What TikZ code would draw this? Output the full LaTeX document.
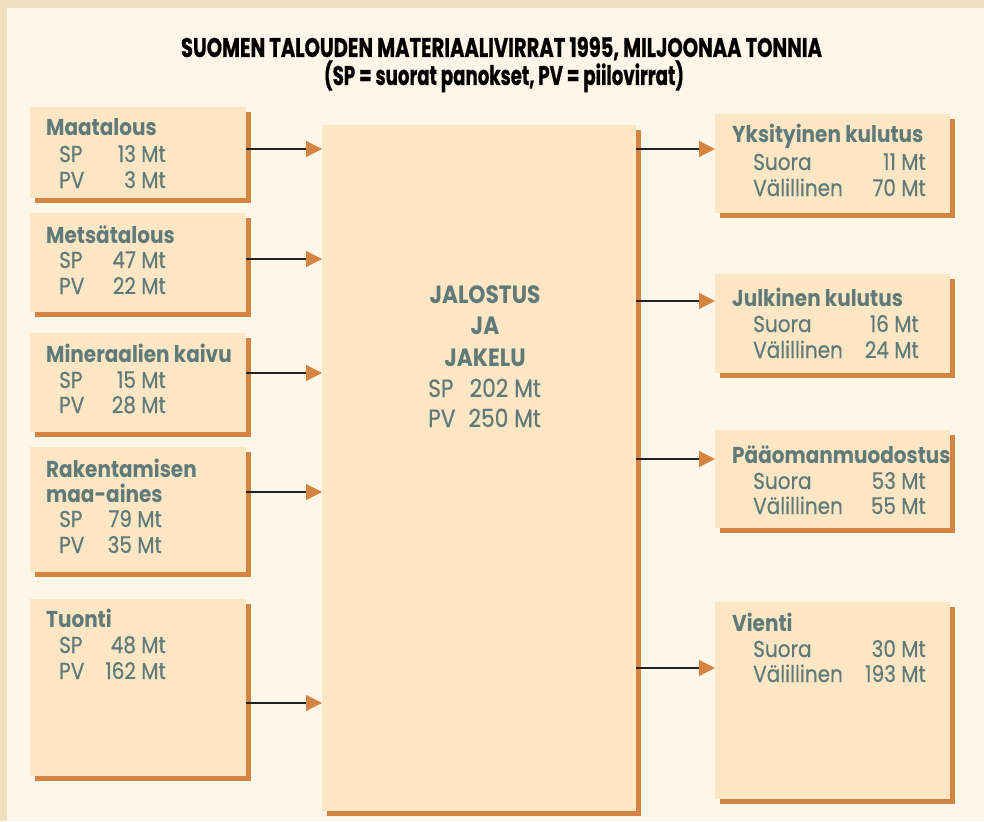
\documentclass[tikz,border=0pt]{standalone}
\usepackage{fontspec}
\usepackage{graphicx}
\setmainfont{Poppins}[FakeStretch=0.87]
\usetikzlibrary{arrows.meta,shadows}
\definecolor{frameC}{HTML}{EEDFBD}
\definecolor{bgC}{HTML}{FFF6EA}
\definecolor{faceC}{HTML}{FDE6C4}
\definecolor{shadowC}{HTML}{D48442}
\definecolor{textC}{HTML}{5F7A78}
\definecolor{lineC}{HTML}{222222}
\newcommand\regtxt[1]{\fontsize{#1}{#1}\selectfont\addfontfeatures{FakeBold=0.4}}
\newcommand\boldtxt[1]{\bfseries\fontsize{#1}{#1}\selectfont}
\begin{document}
\begin{tikzpicture}[x=1pt,y=-1pt,
  face/.style={fill=faceC, draw=none, anchor=north west, inner sep=0pt,
    copy shadow={shadow xshift=4.5pt, shadow yshift=-4.5pt, fill=shadowC, draw=none}},
  hd/.style={anchor=base west, inner sep=0pt, text=textC, font=\boldtxt{23}},
  lb/.style={anchor=base west, inner sep=0pt, text=textC, font=\regtxt{23}},
  vl/.style={anchor=base east, inner sep=0pt, text=textC, font=\regtxt{23}},
  chd/.style={anchor=base, inner sep=0pt, text=textC, font=\boldtxt{25}},
  clb/.style={anchor=base west, inner sep=0pt, text=textC, font=\regtxt{25}},
  cvl/.style={anchor=base east, inner sep=0pt, text=textC, font=\regtxt{25}},
  ttl/.style={anchor=base, inner sep=0pt, text=black, font=\boldtxt{27}\addfontfeatures{FakeBold=0.8}},
  arr/.style={draw=lineC, line width=1.2pt, -{Triangle[length=16pt,width=16pt,color=shadowC]}}
]
\useasboundingbox (0,0) rectangle (984,821);
\fill[frameC] (0,0) rectangle (984,821);
\fill[bgC] (7,8) rectangle (984,821);

% title
\node[ttl] (t1) at (501.5,57)
  {\resizebox{641pt}{\height}{SUOMEN TALOUDEN MATERIAALIVIRRAT 1995, MILJOONAA TONNIA}};
\node[ttl] (t2) at (504,85)
  {\resizebox{360pt}{\height}{(SP = suorat panokset, PV = piilovirrat)}};

% left boxes
\node[face, minimum width=216pt, minimum height=91pt] (maa) at (30,107) {};
\node[face, minimum width=216pt, minimum height=99pt] (met) at (30,213) {};
\node[face, minimum width=216pt, minimum height=99pt] (min) at (30,333) {};
\node[face, minimum width=216pt, minimum height=125pt] (rak) at (30,447) {};
\node[face, minimum width=216pt, minimum height=177pt] (tuo) at (30,599) {};
% centre box
\node[face, minimum width=314pt, minimum height=686pt] (jal) at (322,125) {};
% right boxes
\node[face, minimum width=235pt, minimum height=99pt] (yks) at (715,114) {};
\node[face, minimum width=235pt, minimum height=99pt] (jul) at (715,274) {};
\node[face, minimum width=235pt, minimum height=98pt] (paa) at (715,430) {};
\node[face, minimum width=235pt, minimum height=197pt] (vie) at (715,602) {};

% left texts
\node[hd] (maaH) at (46,136) {Maatalous};
\node[lb] (maaS) at (59,162) {SP};
\node[vl] (maaSv) at (166,162) {13 Mt};
\node[lb] (maaP) at (59,188) {PV};
\node[vl] (maaPv) at (166,188) {3 Mt};

\node[hd] (metH) at (46,243) {Metsätalous};
\node[lb] (metS) at (59,268) {SP};
\node[vl] (metSv) at (166,268) {47 Mt};
\node[lb] (metP) at (59,294) {PV};
\node[vl] (metPv) at (166,294) {22 Mt};

\node[hd] (minH) at (46,362) {Mineraalien kaivu};
\node[lb] (minS) at (59,388) {SP};
\node[vl] (minSv) at (166,388) {15 Mt};
\node[lb] (minP) at (59,413) {PV};
\node[vl] (minPv) at (166,413) {28 Mt};

\node[hd] (rakH) at (46,477) {Rakentamisen};
\node[hd] (rakH2) at (46,502) {maa-aines};
\node[lb] (rakS) at (59,527) {SP};
\node[vl] (rakSv) at (162,527) {79 Mt};
\node[lb] (rakP) at (59,553) {PV};
\node[vl] (rakPv) at (162,553) {35 Mt};

\node[hd] (tuoH) at (46,627) {Tuonti};
\node[lb] (tuoS) at (59,653) {SP};
\node[vl] (tuoSv) at (166,653) {48 Mt};
\node[lb] (tuoP) at (59,679) {PV};
\node[vl] (tuoPv) at (166,679) {162 Mt};

% centre texts
\node[chd] (jalA) at (485,303) {JALOSTUS};
\node[chd] (jalB) at (485,334) {JA};
\node[chd] (jalC) at (485,366) {JAKELU};
\node[clb] (jalS) at (428,397) {SP};
\node[cvl] (jalSv) at (541,397) {202 Mt};
\node[clb] (jalP) at (428,427) {PV};
\node[cvl] (jalPv) at (541,427) {250 Mt};

% right texts
\node[hd] (yksH) at (732,143) {Yksityinen kulutus};
\node[lb] (yksS) at (753,170) {Suora};
\node[vl] (yksSv) at (926,170) {11 Mt};
\node[lb] (yksV) at (753,196) {Välillinen};
\node[vl] (yksVv) at (926,196) {70 Mt};

\node[hd] (julH) at (732,306) {Julkinen kulutus};
\node[lb] (julS) at (753,332) {Suora};
\node[vl] (julSv) at (919,332) {16 Mt};
\node[lb] (julV) at (753,358) {Välillinen};
\node[vl] (julVv) at (919,358) {24 Mt};

\node[hd] (paaH) at (732,463) {Pääomanmuodostus};
\node[lb] (paaS) at (753,489) {Suora};
\node[vl] (paaSv) at (926,489) {53 Mt};
\node[lb] (paaV) at (753,514) {Välillinen};
\node[vl] (paaVv) at (926,514) {55 Mt};

\node[hd] (vieH) at (732,631) {Vienti};
\node[lb] (vieS) at (753,657) {Suora};
\node[vl] (vieSv) at (926,657) {30 Mt};
\node[lb] (vieV) at (753,682) {Välillinen};
\node[vl] (vieVv) at (926,682) {193 Mt};

% arrow levels
\coordinate (y1) at (0,149);
\coordinate (y2) at (0,259);
\coordinate (y3) at (0,373);
\coordinate (y4) at (0,492);
\coordinate (y5) at (0,703);
\coordinate (r1) at (0,149);
\coordinate (r2) at (0,301);
\coordinate (r3) at (0,459);
\coordinate (r4) at (0,668);

\draw[arr] (maa.east |- y1) -- (jal.west |- y1);
\draw[arr] (met.east |- y2) -- (jal.west |- y2);
\draw[arr] (min.east |- y3) -- (jal.west |- y3);
\draw[arr] (rak.east |- y4) -- (jal.west |- y4);
\draw[arr] (tuo.east |- y5) -- (jal.west |- y5);
\draw[arr] (jal.east |- r1) -- (yks.west |- r1);
\draw[arr] (jal.east |- r2) -- (jul.west |- r2);
\draw[arr] (jal.east |- r3) -- (paa.west |- r3);
\draw[arr] (jal.east |- r4) -- (vie.west |- r4);
\end{tikzpicture}
\end{document}
